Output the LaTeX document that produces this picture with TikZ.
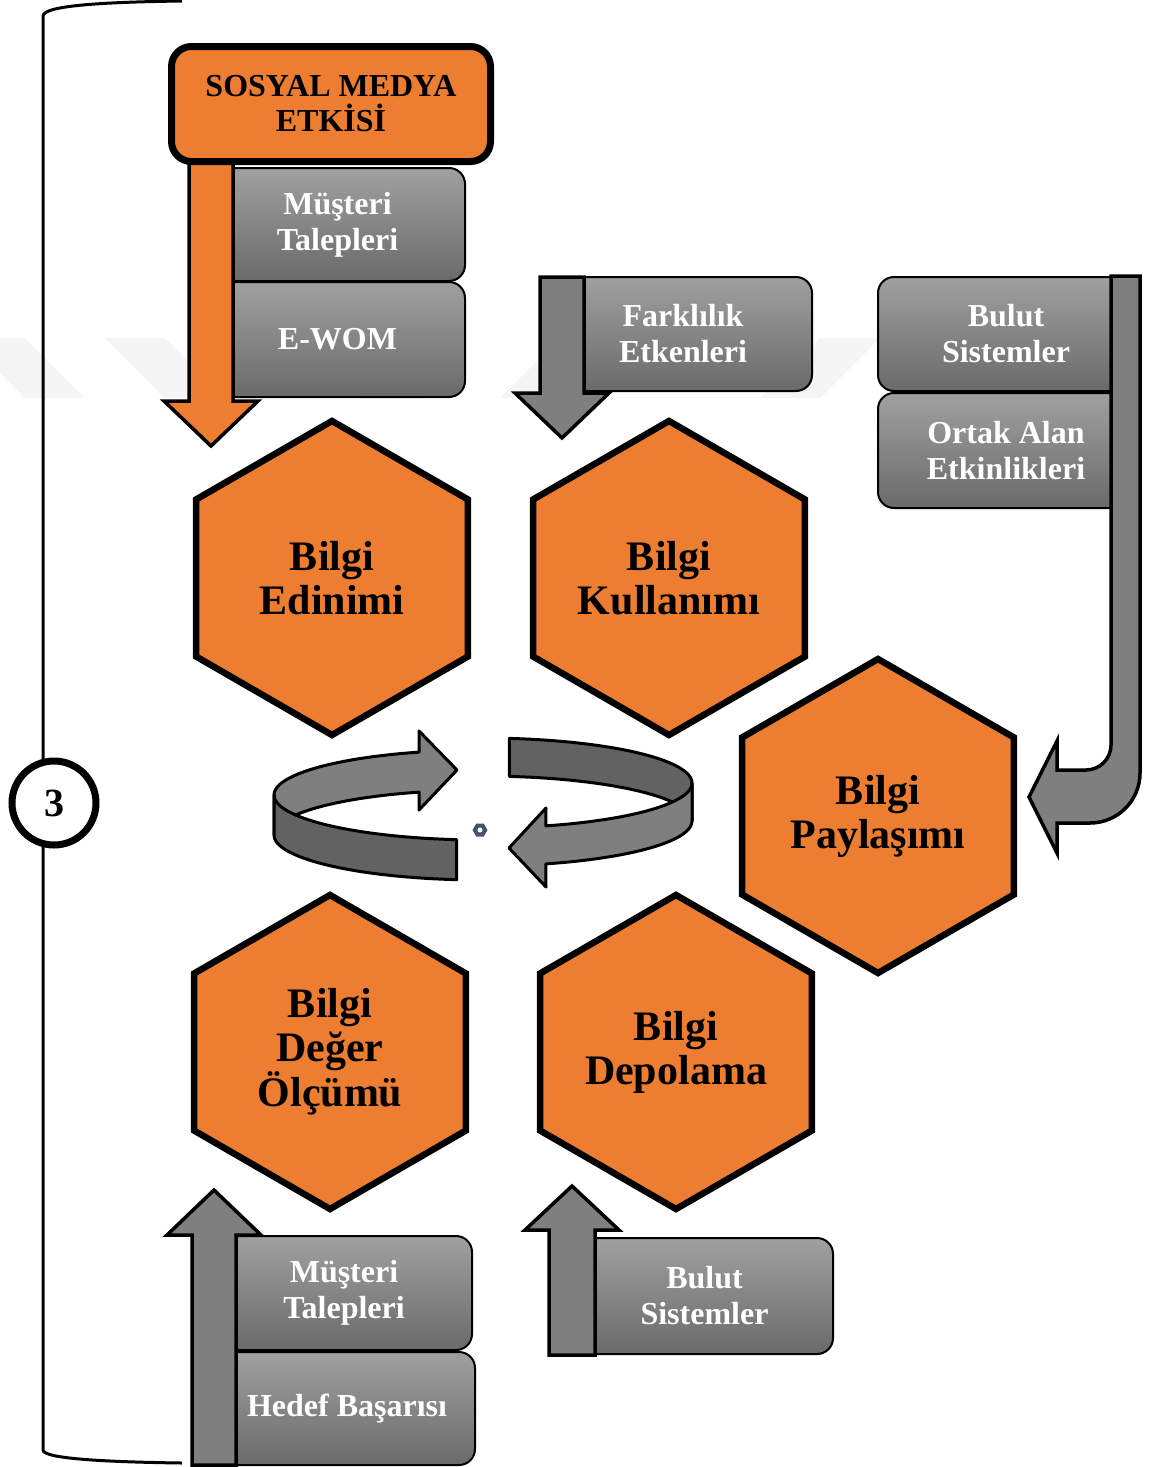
\documentclass[tikz,border=0pt]{standalone}
\usepackage{fontspec}
\setmainfont{Liberation Serif}
\usepackage{tikz}
\usepackage{xcolor}
\usetikzlibrary{shapes.geometric}

\definecolor{hexorange}{RGB}{237,125,49}
\definecolor{arrowgrey}{RGB}{127,127,127}
\definecolor{banddark}{RGB}{98,98,98}
\definecolor{boxtop}{RGB}{160,160,160}
\definecolor{boxbottom}{RGB}{106,106,106}
\definecolor{iconblue}{RGB}{68,84,106}

\tikzset{
  hexa/.style={regular polygon, regular polygon sides=6, shape border rotate=30,
    minimum size=314pt, inner sep=0pt, fill=hexorange, draw=black, line width=6.5pt,
    align=center, font=\fontsize{42}{44}\selectfont\bfseries},
  greybox/.style={rectangle, rounded corners=16pt, draw=black, line width=2pt,
    top color=boxtop, bottom color=boxbottom, text=white, inner sep=0pt,
    align=center, font=\fontsize{32}{36}\selectfont\bfseries},
  headbox/.style={rectangle, rounded corners=20pt, draw=black, line width=7pt,
    fill=hexorange, inner sep=0pt, align=center,
    font=\fontsize{32}{35}\selectfont\bfseries},
  blockarrow/.style={draw=black, line width=3.5pt, fill=arrowgrey},
  ribbon/.style={draw=black, line width=3pt, line join=round},
}

\begin{document}
\begin{tikzpicture}[x=1pt,y=-1pt]
\useasboundingbox (0,0) rectangle (1154,1467);

    % faint watermark stripes
    \foreach \s in {-35,105,300}
      \fill[black!4] (\s,338) -- ++(60,0) -- ++(60,60) -- ++(-60,0) -- cycle;
    \foreach \s in {500,760}
      \fill[black!4] (\s,398) -- ++(60,0) -- ++(60,-60) -- ++(-60,0) -- cycle;

    % bracket on the left with the step number
    \draw[line width=3pt] (182,1) .. controls (110,2) and (43,5) .. (43,16)
      -- (43,1450) .. controls (43,1459) and (110,1462) .. (182,1463);
    \node[circle, draw=black, line width=7pt, fill=white, minimum size=84pt, inner sep=0pt,
      font=\fontsize{40}{44}\selectfont\bfseries] (step3) at (54,803) {3};

    % boxes of the top left group
    \node[greybox, minimum width=255pt, minimum height=113pt] (talep1) at (337.5,224.5) {Müşteri\\Talepleri};
    \node[greybox, minimum width=255pt, minimum height=115pt] (ewom) at (337.5,339.5) {E-WOM};

    % orange arrow down from the head box
    \filldraw[blockarrow, fill=hexorange] (189,150) -- (189,401) -- (164,401) -- (211,446)
      -- (258,401) -- (233,401) -- (233,150) -- cycle;

    \node[headbox, minimum width=319pt, minimum height=115pt] (etki) at (331,104) {SOSYAL MEDYA\\ETKİSİ};

    % Farklilik group
    \node[greybox, minimum width=258pt, minimum height=114pt] (fark) at (683,334) {Farklılık\\Etkenleri};
    \filldraw[blockarrow] (540,277) -- (540,393) -- (515,393) -- (562,438)
      -- (609,393) -- (584,393) -- (584,277) -- cycle;

    % top right group with the bent arrow
    \node[greybox, minimum width=256pt, minimum height=114pt] (bulut1) at (1006,334) {Bulut\\Sistemler};
    \node[greybox, minimum width=256pt, minimum height=115pt] (ortak) at (1006,450.5) {Ortak Alan\\Etkinlikleri};
    \filldraw[blockarrow] (1111,276) -- (1111,745) arc[start angle=0, end angle=90, radius=25]
      -- (1057,770) -- (1057,741) -- (1029,797) -- (1057,853) -- (1057,823) -- (1090,823)
      arc[start angle=90, end angle=0, radius=50] -- (1140,276) -- cycle;

    % bottom groups
    \node[greybox, minimum width=256pt, minimum height=114pt] (talep2) at (344,1293) {Müşteri\\Talepleri};
    \node[greybox, minimum width=256pt, minimum height=113pt] (hedef) at (347,1408.5) {Hedef Başarısı};
    \filldraw[blockarrow] (192,1465) -- (192,1235) -- (167,1235) -- (214,1190)
      -- (261,1235) -- (236,1235) -- (236,1465) -- cycle;

    \node[greybox, minimum width=257pt, minimum height=116pt] (bulut2) at (704.5,1296) {Bulut\\Sistemler};
    \filldraw[blockarrow] (549,1355) -- (549,1230) -- (525,1230) -- (572,1186)
      -- (619,1230) -- (595,1230) -- (595,1355) -- cycle;

    % the five hexagons
    \node[hexa] (edinim) at (332,578) {Bilgi\\Edinimi};
    \node[hexa] (kullanim) at (669,578) {Bilgi\\Kullanımı};
    \node[hexa] (paylasim) at (878,816) {Bilgi\\Paylaşımı};
    \node[hexa] (deger) at (330,1052) {Bilgi\\Değer\\Ölçümü};
    \node[hexa] (depo) at (676,1052) {Bilgi\\Depolama};

    % left ribbon arrow, back part then front part
    \filldraw[ribbon, fill=arrowgrey]
      plot[domain=107.6:180, samples=40] ({482+208*cos(\x)},{795-45*sin(\x)})
      -- plot[domain=180:107.6, samples=40] ({482+208*cos(\x)},{835-45*sin(\x)})
      -- (419,810) -- (457,770) -- (419,731) -- cycle;
    \filldraw[ribbon, fill=banddark]
      plot[domain=180:263, samples=40] ({482+208*cos(\x)},{795-45*sin(\x)})
      -- plot[domain=263:180, samples=40] ({482+208*cos(\x)},{835-45*sin(\x)}) -- cycle;

    % right ribbon arrow
    \filldraw[ribbon, fill=banddark]
      plot[domain=82.5:0, samples=40] ({482+210*cos(\x)},{783-45*sin(\x)})
      -- plot[domain=0:82.5, samples=40] ({482+210*cos(\x)},{821-45*sin(\x)}) -- cycle;
    \filldraw[ribbon, fill=arrowgrey]
      plot[domain=0:-72.3, samples=40] ({482+210*cos(\x)},{783-45*sin(\x)})
      -- (546,808) -- (509,848) -- (546,887)
      -- plot[domain=-72.3:0, samples=40] ({482+210*cos(\x)},{821-45*sin(\x)}) -- cycle;

    % small handle mark in the middle
    \node[regular polygon, regular polygon sides=6, fill=iconblue, minimum size=15pt, inner sep=0pt] (handle) at (480,830) {};
    \fill[white] (handle.center) circle (2.5);

\end{tikzpicture}
\end{document}
